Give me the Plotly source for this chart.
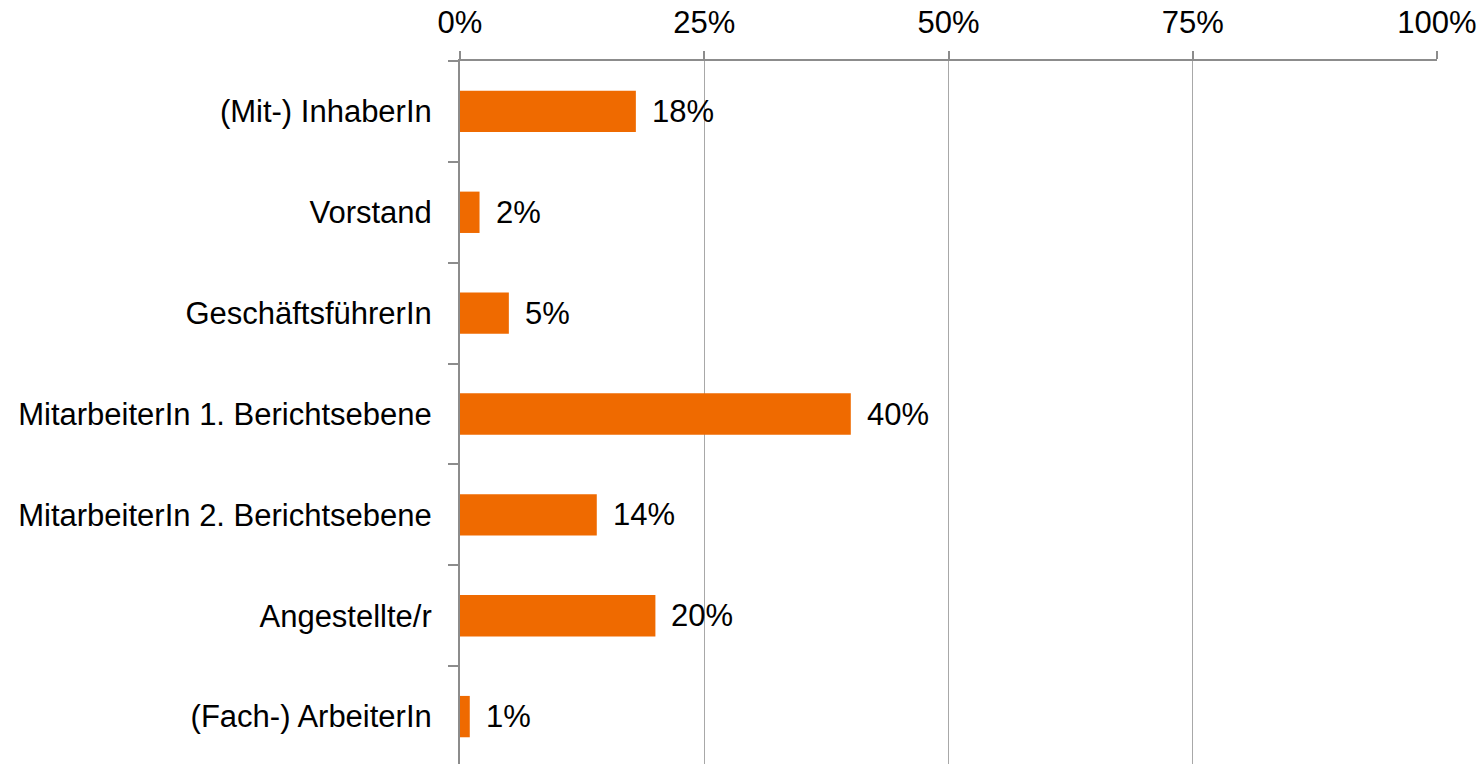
import plotly.graph_objects as go

categories = [
    "(Mit-) InhaberIn",
    "Vorstand",
    "GeschäftsführerIn",
    "MitarbeiterIn 1. Berichtsebene",
    "MitarbeiterIn 2. Berichtsebene",
    "Angestellte/r",
    "(Fach-) ArbeiterIn",
]
shares = [18, 2, 5, 40, 14, 20, 1]
x_ticks = [0, 25, 50, 75, 100]
x_tick_labels = ["0%", "25%", "50%", "75%", "100%"]

FONT = "Liberation Sans, Arial, sans-serif"
FONT_SIZE = 31
BAR_COLOR = "#EF6A00"
AXIS_COLOR = "#8C8C8C"
GRID_COLOR = "#A8A8A8"

fig = go.Figure(
    go.Bar(
        x=shares,
        y=categories,
        orientation="h",
        width=0.41,
        marker=dict(color=BAR_COLOR, line=dict(width=0)),
        hoverinfo="skip",
    )
)

for cat, val in zip(categories, shares):
    fig.add_annotation(
        x=val, y=cat, text=f"{val}%", showarrow=False,
        xanchor="left", yanchor="middle", xshift=14,
        font=dict(family=FONT, size=FONT_SIZE, color="#000000"),
    )

fig.update_layout(
    width=1481, height=764,
    margin=dict(l=460, r=44, t=61, b=0),
    paper_bgcolor="white", plot_bgcolor="white",
    showlegend=False,
    font=dict(family=FONT, size=FONT_SIZE, color="#000000"),
)

fig.update_xaxes(
    side="top", range=[0, 100],
    tickvals=x_ticks, ticktext=x_tick_labels,
    ticks="outside", ticklen=8, tickcolor=AXIS_COLOR, tickwidth=1.5,
    showline=True, linecolor=AXIS_COLOR, linewidth=1.5,
    showgrid=True, gridcolor=GRID_COLOR, gridwidth=1.2,
    zeroline=False, ticklabelstandoff=6,
    tickfont=dict(family=FONT, size=FONT_SIZE, color="#000000"),
)

fig.update_yaxes(
    range=[6.47, -0.5], type="category",
    ticks="outside", tickson="boundaries", ticklen=10,
    tickcolor=AXIS_COLOR, tickwidth=1.5,
    showline=True, linecolor=AXIS_COLOR, linewidth=2,
    showgrid=False, zeroline=False, ticklabelstandoff=20,
    tickfont=dict(family=FONT, size=FONT_SIZE, color="#000000"),
)

fig.write_html("out.html")
